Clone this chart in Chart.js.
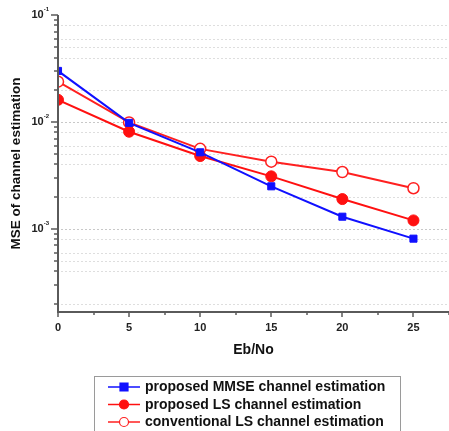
<!DOCTYPE html>
<html>
<head>
<meta charset="utf-8">
<script src="https://cdn.jsdelivr.net/npm/chart.js@4.4.0/dist/chart.umd.min.js"></script>
<style>
html,body{margin:0;padding:0;background:#fff;}
#wrap{width:449px;height:431px;position:relative;}
</style>
</head>
<body>
<div id="wrap"><canvas id="c" width="449" height="431"></canvas></div>
<script>
// ---- data ----
const ebNo = [0, 5, 10, 15, 20, 25];
const mmseProposed = [0.030, 0.0098, 0.0052, 0.0025, 0.0013, 0.00081];
const lsProposed = [0.0161, 0.0081, 0.0048, 0.0031, 0.0019, 0.0012];
const lsConventional = [0.0238, 0.0099, 0.0056, 0.00425, 0.0034, 0.0024];
const xTickLabels = [0, 5, 10, 15, 20, 25];
const yMajorTicks = [0.1, 0.01, 0.001];
const yMajorLabels = [["10", "-1"], ["10", "-2"], ["10", "-3"]];
const seriesNames = ["proposed MMSE channel estimation", "proposed LS channel estimation", "conventional LS channel estimation"];

const FONT = '"Liberation Sans", Arial, sans-serif';
const AXIS = '#5a5a5a';

function pts(arr){ return ebNo.map((x,i)=>({x:x, y:arr[i]})); }

const datasets = [
  {label: seriesNames[0], data: pts(mmseProposed), borderColor:'#1010ff', backgroundColor:'#1010ff',
   pointStyle:'rect', pointRadius:5, borderWidth:2, pointBorderWidth:1},
  {label: seriesNames[1], data: pts(lsProposed), borderColor:'#ff1010', backgroundColor:'#ff1010',
   pointStyle:'circle', pointRadius:5.5, borderWidth:2, pointBorderWidth:1},
  {label: seriesNames[2], data: pts(lsConventional), borderColor:'#ff2020', backgroundColor:'#ffffff',
   pointStyle:'circle', pointRadius:5.5, borderWidth:2, pointBorderWidth:1.5}
];

const gridMinor = [2, 4, 5, 6, 8];

const axesPlugin = {
  id: 'axesPlugin',
  beforeDatasetsDraw(chart){
    const ctx = chart.ctx, a = chart.chartArea, y = chart.scales.y;
    ctx.save();
    ctx.lineWidth = 1;
    ctx.setLineDash([2,2]);
    for (let d = -4; d <= -2; d++){
      for (let k = 1; k <= 9; k++){
        if (k !== 1 && gridMinor.indexOf(k) < 0) continue;
        const v = k*Math.pow(10,d);
        if (v < y.min || v > y.max*0.999) continue;
        ctx.strokeStyle = (k === 1) ? '#c8c8c8' : '#dedede';
        const py = Math.round(y.getPixelForValue(v))+0.5;
        ctx.beginPath(); ctx.moveTo(a.left+3, py); ctx.lineTo(a.right, py); ctx.stroke();
      }
    }
    ctx.restore();
  },
  afterDatasetsDraw(chart){
    const ctx = chart.ctx, a = chart.chartArea, x = chart.scales.x, y = chart.scales.y;
    ctx.save();
    ctx.strokeStyle = AXIS;
    ctx.lineWidth = 2;
    ctx.setLineDash([]);
    // axis lines
    ctx.beginPath();
    ctx.moveTo(a.left, a.top); ctx.lineTo(a.left, a.bottom); ctx.lineTo(a.right, a.bottom);
    ctx.stroke();
    // y ticks
    ctx.lineWidth = 1.5;
    for (let d = -4; d <= -1; d++){
      for (let k = 1; k <= 9; k++){
        const v = k*Math.pow(10,d);
        if (v < y.min || v > y.max*1.001) continue;
        const py = Math.round(y.getPixelForValue(v));
        const len = (k===1) ? 7 : 4;
        ctx.beginPath(); ctx.moveTo(a.left - len, py); ctx.lineTo(a.left, py); ctx.stroke();
      }
    }
    // x ticks
    for (let t = 0; t <= 27.5; t += 2.5){
      const px = Math.round(x.getPixelForValue(t));
      const len = (t % 5 === 0) ? 5 : 3;
      ctx.beginPath(); ctx.moveTo(px, a.bottom); ctx.lineTo(px, a.bottom + len); ctx.stroke();
    }
    // x labels
    ctx.fillStyle = '#222';
    ctx.font = 'bold 11px ' + FONT;
    ctx.textAlign = 'center'; ctx.textBaseline = 'middle';
    xTickLabels.forEach(t => ctx.fillText(String(t), x.getPixelForValue(t), a.bottom + 16));
    // y labels
    yMajorTicks.forEach((v,i) => {
      const py = y.getPixelForValue(v);
      ctx.font = 'bold 6px ' + FONT;
      ctx.textAlign = 'left'; ctx.textBaseline = 'middle';
      const supW = ctx.measureText(yMajorLabels[i][1]).width;
      const right = a.left - 9;
      ctx.fillText(yMajorLabels[i][1], right - supW, py - 6);
      ctx.font = 'bold 11px ' + FONT;
      ctx.textAlign = 'right';
      ctx.fillText(yMajorLabels[i][0], right - supW, py);
    });
    // titles
    ctx.fillStyle = '#111';
    ctx.font = 'bold 14px ' + FONT;
    ctx.textAlign = 'center'; ctx.textBaseline = 'middle';
    ctx.fillText('Eb/No', (a.left + a.right)/2, a.bottom + 38);
    ctx.save();
    ctx.font = 'bold 13.5px ' + FONT;
    ctx.translate(16, (a.top + a.bottom)/2);
    ctx.rotate(-Math.PI/2);
    ctx.fillText('MSE of channel estimation', 0, 0);
    ctx.restore();
    // legend
    const lx = 94, ly = 376, lw = 306, lh = 60;
    ctx.strokeStyle = '#9a9a9a'; ctx.lineWidth = 1;
    ctx.strokeRect(lx + 0.5, ly + 0.5, lw, lh);
    chart.data.datasets.forEach((ds, i) => {
      const cy = 387 + i*17.5;
      ctx.strokeStyle = ds.borderColor; ctx.lineWidth = 1.5;
      ctx.beginPath(); ctx.moveTo(108, cy); ctx.lineTo(140, cy); ctx.stroke();
      ctx.fillStyle = ds.backgroundColor; ctx.strokeStyle = ds.borderColor;
      ctx.lineWidth = 1.2;
      ctx.beginPath();
      if (ds.pointStyle === 'rect'){ ctx.rect(120, cy-4, 8, 8); }
      else { ctx.arc(124, cy, 4.5, 0, Math.PI*2); }
      ctx.fill(); ctx.stroke();
      ctx.fillStyle = '#111';
      ctx.font = 'bold 14px ' + FONT;
      ctx.textAlign = 'left'; ctx.textBaseline = 'middle';
      ctx.fillText(ds.label, 145, cy + 0.5);
    });
    ctx.restore();
  }
};

new Chart(document.getElementById('c'), {
  type: 'line',
  data: { datasets },
  options: {
    responsive: false,
    animation: false,
    devicePixelRatio: 1,
    layout: { autoPadding: false, padding: { top: 15, right: 0, left: 0, bottom: 0 } },
    plugins: { legend: { display: false }, tooltip: { enabled: false } },
    elements: { line: { tension: 0 } },
    scales: {
      x: { type: 'linear', min: 0, max: 27.5,
           grid: { display: false }, border: { display: false },
           ticks: { display: false },
           afterFit(s){ s.height = 119; } },
      y: { type: 'logarithmic', min: 0.000167, max: 0.1,
           grid: { display: false }, border: { display: false },
           ticks: { display: false },
           afterFit(s){ s.width = 58; } }
    }
  },
  plugins: [axesPlugin]
});
</script>
</body>
</html>
